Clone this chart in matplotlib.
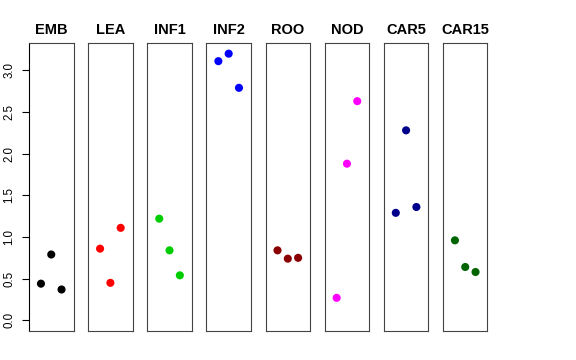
import matplotlib
matplotlib.use("Agg")
import matplotlib.pyplot as plt

groups = ["EMB", "LEA", "INF1", "INF2", "ROO", "NOD", "CAR5", "CAR15"]
colors = ["black", "#FF0000", "#00CD00", "#0000FF", "#8B0000", "#FF00FF", "#00008B", "#006400"]
xpos = [1, 2, 3]
values = {
    "EMB":   [0.44, 0.79, 0.37],
    "LEA":   [0.86, 0.45, 1.11],
    "INF1":  [1.22, 0.84, 0.54],
    "INF2":  [3.11, 3.20, 2.79],
    "ROO":   [0.84, 0.74, 0.75],
    "NOD":   [0.27, 1.88, 2.63],
    "CAR5":  [1.29, 2.28, 1.36],
    "CAR15": [0.96, 0.64, 0.58],
}
yticks = [0.0, 0.5, 1.0, 1.5, 2.0, 2.5, 3.0]
yticklabels = ["0.0", "0.5", "1.0", "1.5", "2.0", "2.5", "3.0"]

plt.rcParams['font.family'] = ['Liberation Sans', 'DejaVu Sans']

W, H = 576, 360
fig = plt.figure(figsize=(W / 100, H / 100), dpi=100)

left0, pitch, pw = 29.0, 59.14, 44.5
top, bottom = 43.0, 331.0
ylo, yhi = 0.0, 3.2
pad = 0.04 * (yhi - ylo)

for i, g in enumerate(groups):
    l = left0 + i * pitch
    ax = fig.add_axes([l / W, 1 - bottom / H, pw / W, (bottom - top) / H])
    ax.scatter(xpos, values[g], s=34, color=colors[i], edgecolors='none', zorder=3)
    ax.set_xlim(-0.16, 4.16)
    ax.set_ylim(ylo - pad, yhi + pad)
    ax.set_xticks([])
    for sp in ax.spines.values():
        sp.set_color("#444444")
        sp.set_linewidth(0.8)
    ax.set_title(g, fontsize=10.5, fontweight='bold', pad=6.5)
    if i == 0:
        ax.spines['left'].set_color('black')
        ax.set_yticks(yticks)
        ax.set_yticklabels(yticklabels, rotation=90, va='center', fontsize=8.3)
        ax.tick_params(axis='y', length=5, width=0.8, pad=5)
    else:
        ax.set_yticks([])

fig.savefig("out.png", dpi=100)
